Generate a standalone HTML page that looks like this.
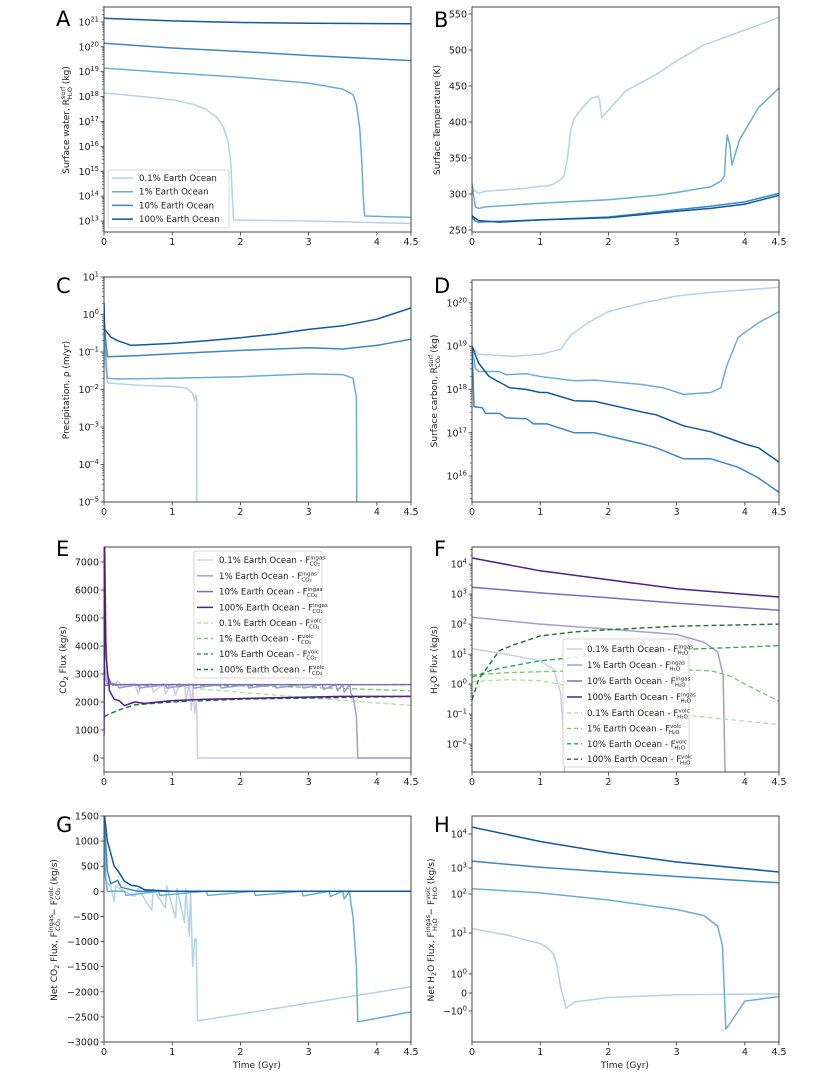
<!DOCTYPE html>
<html><head><meta charset="utf-8">
<style>
html,body{margin:0;padding:0;background:#fff;}
svg{display:block;font-family:"DejaVu Sans","Liberation Sans",sans-serif;}
.tk{font-size:9.5px;fill:#222;}
.al{font-size:9px;fill:#222;}
.pl{font-size:21px;fill:#000;}
.lg{font-size:8.6px;fill:#222;}
</style></head>
<body>
<svg id="fig" width="835" height="1078" viewBox="0 0 835 1078" xmlns="http://www.w3.org/2000/svg">
<rect width="835" height="1078" fill="#fff"/>
<text class="pl" x="56" y="26">A</text>
<text class="pl" x="434" y="27">B</text>
<text class="pl" x="56" y="293">C</text>
<text class="pl" x="434" y="293">D</text>
<text class="pl" x="56" y="556">E</text>
<text class="pl" x="434" y="556">F</text>
<text class="pl" x="56" y="832">G</text>
<text class="pl" x="434" y="832">H</text>
<text class="al" transform="translate(69,120) rotate(-90)" text-anchor="middle">Surface water, R<tspan dy="-4" font-size="6.5">surf</tspan><tspan dx="-13" dy="7" font-size="6.5">H₂O</tspan><tspan dy="-3"> (kg)</tspan></text>
<text class="al" transform="translate(440,120) rotate(-90)" text-anchor="middle">Surface Temperature (K)</text>
<text class="al" transform="translate(69,390) rotate(-90)" text-anchor="middle">Precipitation, ρ (m/yr)</text>
<text class="al" transform="translate(437,391) rotate(-90)" text-anchor="middle">Surface carbon, R<tspan dy="-4" font-size="6.5">surf</tspan><tspan dx="-13" dy="7" font-size="6.5">CO₂</tspan><tspan dy="-3"> (kg)</tspan></text>
<text class="al" transform="translate(66,660) rotate(-90)" text-anchor="middle">CO<tspan dy="2" font-size="6.5">2</tspan><tspan dy="-2"> Flux (kg/s)</tspan></text>
<text class="al" transform="translate(437,660) rotate(-90)" text-anchor="middle">H<tspan dy="2" font-size="6.5">2</tspan><tspan dy="-2">O Flux (kg/s)</tspan></text>
<text class="al" transform="translate(57,930) rotate(-90)" text-anchor="middle">Net CO<tspan dy="2" font-size="6.5">2</tspan><tspan dy="-2"> Flux, F</tspan><tspan dy="-4" font-size="6.5">ingas</tspan><tspan dx="-16" dy="7" font-size="6.5">CO₂</tspan><tspan dy="-3"> − F</tspan><tspan dy="-4" font-size="6.5">volc</tspan><tspan dx="-13" dy="7" font-size="6.5">CO₂</tspan><tspan dy="-3">  (kg/s)</tspan></text>
<text class="al" transform="translate(434,930) rotate(-90)" text-anchor="middle">Net H<tspan dy="2" font-size="6.5">2</tspan><tspan dy="-2">O Flux, F</tspan><tspan dy="-4" font-size="6.5">ingas</tspan><tspan dx="-16" dy="7" font-size="6.5">H₂O</tspan><tspan dy="-3"> − F</tspan><tspan dy="-4" font-size="6.5">volc</tspan><tspan dx="-13" dy="7" font-size="6.5">H₂O</tspan><tspan dy="-3">  (kg/s)</tspan></text>
<text class="al" x="257" y="1068" text-anchor="middle" font-size="9.5">Time (Gyr)</text>
<text class="al" x="625" y="1068" text-anchor="middle" font-size="9.5">Time (Gyr)</text>
</svg>
<script>
const xTicks=[0,1,2,3,4,4.5];
const xTickLabels=["0","1","2","3","4","4.5"];
const oceanLabels=["0.1% Earth Ocean","1% Earth Ocean","10% Earth Ocean","100% Earth Ocean"];
// Panel A
const aT0=[0,0.5,1,1.3,1.5,1.65,1.75,1.82,1.86,1.88,1.9,3,4.5];
const aV0=[1.4e18,1.05e18,7.5e17,5e17,3e17,1.5e17,6e16,1.5e16,2e15,1e14,1.1e13,1e13,8e12];
const aT1=[0,1,2,3,3.5,3.65,3.7,3.75,3.78,3.8,3.82,4.5];
const aV1=[1.4e19,9e18,6e18,3.5e18,2e18,1.2e18,5e17,5e16,2e15,1e14,1.6e13,1.4e13];
const aT2=[0,1,2,3,4.5];
const aV2=[1.4e20,9e19,6.5e19,4.5e19,2.8e19];
const aT3=[0,1,2,3,4.5];
const aV3=[1.4e21,1.1e21,9.5e20,8.8e20,8.5e20];
// Panel B
const bT0=[0,0.03,0.1,0.2,0.5,0.8,1,1.1,1.2,1.3,1.35,1.4,1.45,1.5,1.6,1.75,1.85,1.87,1.9,2.25,2.7,3.0,3.4,4.5];
const bV0=[315,305,301,304,306,308,311,311,314,320,325,350,390,405,418,433,436,430,406,443,466,485,507,545];
const bT1=[0,0.05,0.1,0.2,0.5,1,2,2.7,3,3.5,3.65,3.7,3.72,3.74,3.78,3.81,3.92,4.2,4.5];
const bV1=[312,282,280,282,284,287,292,298,302,310,318,325,360,382,367,340,375,420,447];
const bT2=[0,0.05,0.1,0.4,1,2,3,3.5,4,4.5];
const bV2=[268,262,261,262,264,268,278,283,289,301];
const bT3=[0,0.05,0.1,0.4,1,2,3,3.5,4,4.5];
const bV3=[270,266,263,261,264,267,276,280,286,298];
// Panel C
const cT0=[0,0.05,0.5,1,1.2,1.3,1.33,1.35,1.36,1.361];
const cV0=[0.1,0.015,0.013,0.012,0.011,0.008,0.005,0.007,0.005,1e-7];
const cT1=[0,0.05,0.2,1,2,3,3.5,3.65,3.7,3.71];
const cV1=[0.3,0.02,0.019,0.02,0.022,0.026,0.025,0.02,0.006,1e-7];
const cT2=[0,0.05,0.5,1,2,3,3.5,4,4.5];
const cV2=[0.6,0.075,0.08,0.09,0.11,0.13,0.12,0.15,0.22];
const cT3=[0,0.01,0.1,0.2,0.4,1,1.5,2,2.5,3,3.5,4,4.5];
const cV3=[2,0.4,0.25,0.2,0.15,0.17,0.2,0.24,0.3,0.4,0.5,0.75,1.5];
// Panel D
const dT0=[0,0.1,0.6,1,1.3,1.45,1.7,2,2.5,3,3.5,4,4.5];
const dV0=[1e19,6.5e18,5.8e18,6.5e18,8.5e18,1.8e19,3.5e19,6.3e19,1e20,1.45e20,1.75e20,2e20,2.3e20];
const dT1=[0,0.05,0.1,0.4,0.5,0.8,1,1.5,1.8,2.5,2.8,3.1,3.5,3.65,3.72,3.75,3.9,4.2,4.5];
const dV1=[1e19,3e18,2.6e18,2.6e18,2.2e18,2.3e18,2e18,1.6e18,1.65e18,1.3e18,1.1e18,7.7e17,8.5e17,1.1e18,3e18,4e18,1.6e19,3.5e19,6.3e19];
const dT2=[0,0.03,0.15,0.2,0.4,0.5,0.8,0.9,1.1,1.5,1.8,2.5,2.7,3.1,3.5,3.9,4.2,4.5];
const dV2=[1e19,4e17,3.8e17,2.8e17,2.8e17,2.2e17,2.1e17,1.6e17,1.6e17,1e17,1e17,5.5e16,4.5e16,2.5e16,2.5e16,1.6e16,9e15,4.2e15];
const dT3=[0,0.1,0.25,0.55,0.8,1,1.1,1.5,1.8,2.5,2.7,3.1,3.5,4,4.2,4.5];
const dV3=[1e19,4e18,2e18,1.1e18,1e18,8.5e17,8.5e17,5.5e17,5.3e17,3e17,2.6e17,1.45e17,1.05e17,5.5e16,4.5e16,2.1e16];
// Panel E ingas
const eTi0=[0,0.03,0.08,0.1,0.15,0.2,0.25,0.3,0.45,0.5,0.55,0.7,0.72,0.88,0.9,1.0,1.05,1.1,1.18,1.2,1.25,1.28,1.3,1.33,1.35,1.36,1.37,4.5];
const eVi0=[3000,2700,2600,2750,2600,2750,2600,2600,2650,2300,2600,2650,2350,2650,2300,2650,2250,2650,2600,2100,2650,1700,2600,1600,2000,1600,0,0];
const eTi1=[0,0.04,0.1,0.2,0.22,0.5,0.52,0.9,0.92,1.3,1.32,1.7,1.72,2.1,2.12,2.5,2.52,2.9,2.92,3.2,3.22,3.4,3.42,3.5,3.52,3.6,3.62,3.65,3.7,3.72,4.5];
const eVi1=[3500,2650,2620,2620,2500,2620,2500,2620,2500,2620,2500,2620,2500,2620,2500,2620,2500,2620,2500,2620,2450,2620,2400,2620,2350,2620,2300,2200,1500,0,0];
const eTi2=[0,0.02,0.05,0.1,0.2,1,4.5];
const eVi2=[7500,4500,3000,2650,2620,2620,2620];
const eTi3=[0,0.01,0.03,0.08,0.15,0.22,0.3,0.45,0.6,1.0,1.5,2.5,3.5,4.5];
const eVi3=[800,7500,3600,2400,2100,2050,1870,2000,1950,2050,2100,2150,2200,2200];
// Panel E volc
const eTv0=[0,1,2,3,4.5];
const eVv0=[2600,2550,2350,2150,1880];
const eTv1=[0,1,2,3,4.5];
const eVv1=[2600,2600,2580,2520,2400];
const eTv2=[0,4.5];
const eVv2=[2600,2620];
const eTv3=[0,0.2,0.45,1.0,2,4.5];
const eVv3=[1480,1700,1900,2000,2100,2200];
// Panel F ingas
const fTi0=[0,0.5,1,1.2,1.3,1.35,1.38];
const fVi0=[15,10,6,3,0.5,0.01,1e-5];
const fTi1=[0,1,2,3,3.4,3.6,3.68,3.71,3.72];
const fVi1=[170,100,68,45,25,12,2,1e-3,1e-5];
const fTi2=[0,1,2,3,4.5];
const fVi2=[1700,1100,750,500,290];
const fTi3=[0,1,2,3,4.5];
const fVi3=[16000,6000,3000,1500,800];
// Panel F volc
const fTv0=[0,0.5,1,1.5,2,2.5,3,3.5,4.5];
const fVv0=[1.2,1.4,1.3,0.8,0.35,0.17,0.1,0.075,0.045];
const fTv1=[0,0.5,1,2,3,3.5,3.8,4,4.5];
const fVv1=[2,2.4,2.6,3,3,2.8,1.8,1,0.27];
const fTv2=[0,0.3,0.7,1,2,3,4.5];
const fVv2=[1.7,3,4.5,6,10,14,19];
const fTv3=[0,0.1,0.2,0.4,0.6,1,1.5,2,3,4.5];
const fVv3=[0.3,1.5,3,13,20,40,55,65,85,100];
// Panel G
const gT0=[0,0.03,0.1,0.15,0.17,0.3,0.45,0.5,0.7,0.72,0.9,0.92,1.05,1.07,1.18,1.2,1.25,1.27,1.3,1.33,1.35,1.37,4.5];
const gV0=[1500,200,100,-200,100,0,-100,50,-380,50,-330,100,-530,50,-620,50,-900,0,-1500,-950,-950,-2580,-1900];
const gT1=[0,0.02,0.05,0.3,0.32,0.8,0.82,1.5,1.52,2.2,2.22,2.9,2.92,3.3,3.32,3.5,3.52,3.6,3.62,3.65,3.7,3.72,4.5];
const gV1=[1500,300,0,0,-80,0,-80,0,-80,0,-80,0,-90,0,-100,0,-150,0,-250,-500,-1500,-2600,-2400];
const gT2=[0,0.05,0.1,0.2,0.25,0.4,0.5,4.5];
const gV2=[1500,400,150,220,80,30,0,0];
const gT3=[0,0.05,0.15,0.2,0.3,0.4,0.5,0.6,1,4.5];
const gV3=[1600,1000,500,420,200,120,100,30,0,0];
// Panel H
const hT0=[0,0.5,1,1.1,1.2,1.25,1.3,1.38,1.5,2,3,4.5];
const hV0=[13,9,5.5,4.5,3,1.5,0.3,-0.85,-0.5,-0.25,-0.1,-0.05];
const hT1=[0,1,2,3,3.4,3.6,3.67,3.7,3.72,3.8,4,4.3,4.5];
const hV1=[160,110,70,40,28,15,5,0,-2.8,-1.8,-0.45,-0.3,-0.2];
const hT2=[0,1,2,3,4.5];
const hV2=[1600,1050,700,470,270];
const hT3=[0,1,2,3,4.5];
const hV3=[16000,6000,2800,1500,700];
const hTickVals=[1e4,1e3,1e2,1e1,1,0,-1];
const hTickLabels=[["10","4"],["10","3"],["10","2"],["10","1"],["10","0"],["0",""],["−10","0"]];

const NS='http://www.w3.org/2000/svg';
const svg=document.getElementById('fig');
function el(tag,attrs,parent){const e=document.createElementNS(NS,tag);for(const k in attrs)e.setAttribute(k,attrs[k]);(parent||svg).appendChild(e);return e;}
const blues=['#b3d3ea','#6aaed6','#3b87c4','#1258a0'];
const purples=['#cfcde6','#a39fd0','#7a6cc0','#4f1f8c'];
const greens=['#b4e2a6','#7ccd77','#36a653','#167436'];
let clipN=0;

function mkPanel(name,l,r,t,b){
  const p={l,r,t,b,name};
  p.X=v=>l+v/4.5*(r-l);
  const id='clip'+(clipN++);
  const cp=el('clipPath',{id});
  el('rect',{x:l,y:t,width:r-l,height:b-t},cp);
  const g=el('g',{'clip-path':'url(#'+id+')'});
  
  
  p.g=g;
  return p;
}
function frame(p){
  const f=el('rect',{x:p.l,y:p.t,width:p.r-p.l,height:p.b-p.t,fill:'none',stroke:'#333','stroke-width':0.9});
  
  
  xTicks.forEach((v,i)=>{
    const x=p.X(v);
    const tk=el('line',{x1:x,x2:x,y1:p.b,y2:p.b+3.5,stroke:'#333','stroke-width':0.8});
    
    
    const tx=el('text',{x:x,y:p.b+13,'text-anchor':'middle',class:'tk'});
    tx.textContent=xTickLabels[i];
    
    
  });
}
function yTick(p,y,label,sup,minor){
  const tk=el('line',{x1:p.l,x2:p.l-(minor?2:3.5),y1:y,y2:y,stroke:'#333','stroke-width':minor?0.6:0.8});
  
  
  if(minor)return;
  const tx=el('text',{x:p.l-(sup?12:5),y:y+3.5,'text-anchor':'end',class:'tk'});
  tx.textContent=label;
  
  
  if(sup){
    const s=el('tspan',{x:p.l-5,dy:-4,'font-size':6.8,'text-anchor':'end'},tx);
    s.textContent=sup;
    tx.setAttribute('x',p.l-5-sup.length*4.2);
  }
}
function logTicks(p,Y,lo,hi){
  for(let e=Math.floor(lo);e<=Math.ceil(hi);e++){
    for(let m=1;m<10;m++){
      const v=m*Math.pow(10,e);const y=Y(v);
      if(y<p.t-0.5||y>p.b+0.5)continue;
      if(m===1)yTick(p,y,'10',(e<0?'−':'')+Math.abs(e),false);
      else yTick(p,y,'','',true);
    }
  }
}
function linTicks(p,Y,vals){vals.forEach(v=>yTick(p,Y(v),(v<0?'−':'')+Math.abs(v),'',false));}
function series(p,Y,ts,vs,color,w,dash,name){
  let d='';
  ts.forEach((t,i)=>{d+=(i?'L':'M')+p.X(t).toFixed(1)+','+Y(vs[i]).toFixed(1);});
  const a={d,fill:'none',stroke:color,'stroke-width':w,'stroke-linejoin':'round'};
  if(dash)a['stroke-dasharray']=dash;
  const pa=el('path',a,p.g);
  
  
}
function linY(p,min,max){return v=>p.b-(v-min)/(max-min)*(p.b-p.t);}
function logY(p,lo,hi){return v=>p.b-(Math.log10(Math.max(v,1e-30))-lo)/(hi-lo)*(p.b-p.t);}

{const p=mkPanel('panel-a',104,411,7,232);const Y=logY(p,12.56,21.6);
[[aT0,aV0],[aT1,aV1],[aT2,aV2],[aT3,aV3]].forEach((s,i)=>series(p,Y,s[0],s[1],blues[i],1.5,null,'surface-water-line-'+i));
frame(p);logTicks(p,Y,12.56,21.6);}
{const p=mkPanel('panel-b',472,779,7,232);const Y=linY(p,247.2,559.7);
[[bT0,bV0],[bT1,bV1],[bT2,bV2],[bT3,bV3]].forEach((s,i)=>series(p,Y,s[0],s[1],blues[i],1.5,null,'surface-temperature-line-'+i));
frame(p);linTicks(p,Y,[250,300,350,400,450,500,550]);}
{const p=mkPanel('panel-c',104,411,277,502);const Y=logY(p,-5,1);
[[cT0,cV0],[cT1,cV1],[cT2,cV2],[cT3,cV3]].forEach((s,i)=>series(p,Y,s[0],s[1],blues[i],1.5,null,'precipitation-line-'+i));
frame(p);logTicks(p,Y,-5,1);}
{const p=mkPanel('panel-d',472,779,280,502);const Y=logY(p,15.4,20.53);
[[dT0,dV0],[dT1,dV1],[dT2,dV2],[dT3,dV3]].forEach((s,i)=>series(p,Y,s[0],s[1],blues[i],1.5,null,'surface-carbon-line-'+i));
frame(p);logTicks(p,Y,15.4,20.53);}
{const p=mkPanel('panel-e',104,411,547,772);const Y=linY(p,-500,7536);
[[eTv0,eVv0],[eTv1,eVv1],[eTv2,eVv2],[eTv3,eVv3]].forEach((s,i)=>series(p,Y,s[0],s[1],greens[i],1.4,'5,3','co2-volc-line-'+i));
[[eTi0,eVi0],[eTi1,eVi1],[eTi2,eVi2],[eTi3,eVi3]].forEach((s,i)=>series(p,Y,s[0],s[1],purples[i],1.5,null,'co2-ingas-line-'+i));
frame(p);linTicks(p,Y,[0,1000,2000,3000,4000,5000,6000,7000]);}
{const p=mkPanel('panel-f',472,779,547,772);const Y=logY(p,-2.93,4.57);
[[fTi0,fVi0],[fTi1,fVi1],[fTi2,fVi2],[fTi3,fVi3]].forEach((s,i)=>series(p,Y,s[0],s[1],purples[i],1.5,null,'h2o-ingas-line-'+i));
[[fTv0,fVv0],[fTv1,fVv1],[fTv2,fVv2],[fTv3,fVv3]].forEach((s,i)=>series(p,Y,s[0],s[1],greens[i],1.4,'5,3','h2o-volc-line-'+i));
frame(p);logTicks(p,Y,-2.93,4.57);}
{const p=mkPanel('panel-g',104,411,816,1042);const Y=linY(p,-3000,1500);
[[gT0,gV0],[gT1,gV1],[gT2,gV2],[gT3,gV3]].forEach((s,i)=>series(p,Y,s[0],s[1],blues[i],1.5,null,'net-co2-line-'+i));
frame(p);linTicks(p,Y,[-3000,-2500,-2000,-1500,-1000,-500,0,500,1000,1500]);}
{const p=mkPanel('panel-h',472,779,816,1042);
const tPts=[5,4,3,2,1,0,-1],yPts=[834,868,894,933,974,993,1011];
const tr=v=>{const a=Math.abs(v);const s=v<0?-1:1;return s*(a<=1?a:1+Math.log10(a));};
const Y=v=>{const t=tr(v);
  if(t>=5)return 834-(t-5)*34;
  if(t<=-1)return 1011+(-1-t)*41;
  for(let i=0;i<tPts.length-1;i++){if(t<=tPts[i]&&t>=tPts[i+1]){const f=(tPts[i]-t)/(tPts[i]-tPts[i+1]);return yPts[i]+f*(yPts[i+1]-yPts[i]);}}
  return 993;};
[[hT0,hV0],[hT1,hV1],[hT2,hV2],[hT3,hV3]].forEach((s,i)=>series(p,Y,s[0],s[1],blues[i],1.5,null,'net-h2o-line-'+i));
frame(p);hTickVals.forEach((v,i)=>yTick(p,Y(v),hTickLabels[i][0],hTickLabels[i][1],false));}

function legendBox(x,y,w,h,name){
  const r=el('rect',{x,y,width:w,height:h,rx:2,fill:'#fff','fill-opacity':0.85,stroke:'#ccc','stroke-width':0.8});
  
  
}
function legendEntry(x1,x2,tx,y,color,w,dash,label,sup,sub,name){
  const a={x1,x2,y1:y,y2:y,stroke:color,'stroke-width':w};
  if(dash)a['stroke-dasharray']=dash;
  const ln=el('line',a);
  
  
  const t=el('text',{x:tx,y:y+3,class:'lg'});
  t.textContent=label;
  
  
  if(sup){
    const s1=el('tspan',{dy:-3.5,'font-size':5.5},t);s1.textContent=sup;
    const s2=el('tspan',{dx:-(sup.length*3.1),dy:6,'font-size':5.5},t);s2.textContent=sub;
  }
}
legendBox(108,170,121,58,'legend-a');
oceanLabels.forEach((l,i)=>legendEntry(112,133,139,178+i*13.7,blues[i],1.5,null,l,'','','legend-entry-a-'+i));
legendBox(194,551,128,127,'legend-e');
oceanLabels.forEach((l,i)=>legendEntry(197,213,219,560+i*15.8,purples[i],1.5,null,l+' - F','ingas','CO₂','legend-entry-e-ingas-'+i));
oceanLabels.forEach((l,i)=>legendEntry(197,213,219,623+i*15.5,greens[i],1.4,'4,3',l+' - F','volc','CO₂','legend-entry-e-volc-'+i));
legendBox(563,639,126,128,'legend-f');
oceanLabels.forEach((l,i)=>legendEntry(567,582,587,649+i*16,purples[i],1.5,null,l+' - F','ingas','H₂O','legend-entry-f-ingas-'+i));
oceanLabels.forEach((l,i)=>legendEntry(567,582,587,713+i*15.4,greens[i],1.4,'4,3',l+' - F','volc','H₂O','legend-entry-f-volc-'+i));
</script>
</body></html>
